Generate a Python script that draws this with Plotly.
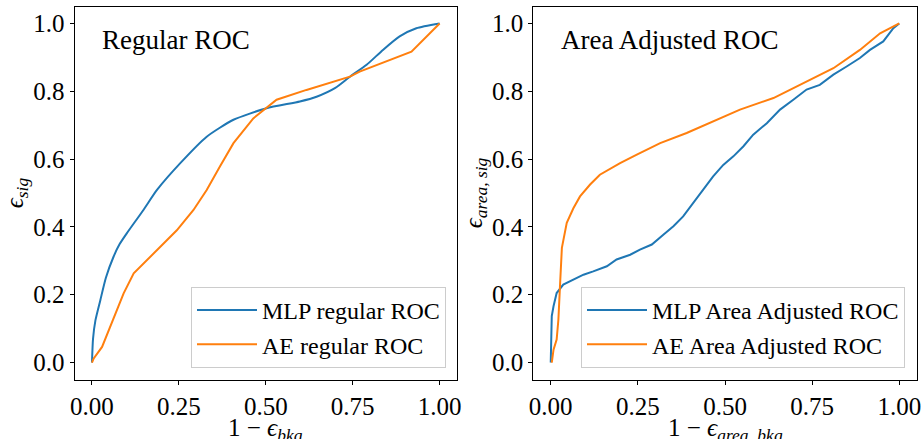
import plotly.graph_objects as go

# ---- data ----
mlp_reg_x = [0, 0.003, 0.01, 0.024, 0.04, 0.062, 0.08, 0.1, 0.148, 0.187, 0.254, 0.33, 0.407, 0.502, 0.598, 0.646, 0.70, 0.742, 0.79, 0.837, 0.885, 0.933, 1.0]
mlp_reg_y = [0, 0.07, 0.125, 0.184, 0.25, 0.312, 0.35, 0.381, 0.45, 0.509, 0.588, 0.666, 0.716, 0.75, 0.77, 0.784, 0.81, 0.843, 0.878, 0.922, 0.962, 0.986, 1.0]

ae_reg_x = [0, 0.005, 0.029, 0.053, 0.091, 0.12, 0.148, 0.196, 0.244, 0.292, 0.33, 0.368, 0.407, 0.464, 0.502, 0.531, 0.617, 0.742, 0.77, 0.919, 1.0]
ae_reg_y = [0, 0.012, 0.046, 0.105, 0.204, 0.263, 0.292, 0.342, 0.39, 0.45, 0.509, 0.578, 0.647, 0.72, 0.75, 0.775, 0.804, 0.843, 0.858, 0.917, 1.0]

mlp_area_x = [0, 0.003, 0.008, 0.017, 0.036, 0.065, 0.094, 0.122, 0.161, 0.189, 0.228, 0.256, 0.29, 0.323, 0.352, 0.38, 0.409, 0.428, 0.443, 0.466, 0.495, 0.524, 0.553, 0.581, 0.62, 0.658, 0.696, 0.734, 0.772, 0.811, 0.849, 0.887, 0.916, 0.954, 0.983, 1.0]
mlp_area_y = [0, 0.137, 0.166, 0.205, 0.23, 0.245, 0.259, 0.269, 0.284, 0.304, 0.318, 0.333, 0.348, 0.377, 0.402, 0.431, 0.471, 0.5, 0.52, 0.549, 0.583, 0.608, 0.638, 0.672, 0.706, 0.746, 0.775, 0.805, 0.819, 0.849, 0.873, 0.898, 0.922, 0.947, 0.986, 1.0]

ae_area_x = [0.003, 0.008, 0.017, 0.022, 0.027, 0.032, 0.046, 0.065, 0.084, 0.113, 0.141, 0.199, 0.247, 0.314, 0.39, 0.467, 0.543, 0.639, 0.744, 0.811, 0.887, 0.945, 1.0]
ae_area_y = [0, 0.038, 0.068, 0.127, 0.235, 0.338, 0.412, 0.455, 0.49, 0.525, 0.554, 0.588, 0.613, 0.647, 0.677, 0.711, 0.746, 0.78, 0.834, 0.868, 0.922, 0.971, 1.0]

x_ticks = [0, 0.25, 0.5, 0.75, 1.0]
x_ticklabels = ["0.00", "0.25", "0.50", "0.75", "1.00"]
y_ticks = [0, 0.2, 0.4, 0.6, 0.8, 1.0]
y_ticklabels = ["0.0", "0.2", "0.4", "0.6", "0.8", "1.0"]

BLUE = "#1f77b4"
ORANGE = "#ff7f0e"
FONT = "Liberation Serif"

fig = go.Figure()
fig.add_trace(go.Scatter(x=mlp_reg_x, y=mlp_reg_y, mode="lines", name="MLP regular ROC",
                         line=dict(color=BLUE, width=2, shape="spline", smoothing=0.6),
                         xaxis="x", yaxis="y", legend="legend"))
fig.add_trace(go.Scatter(x=ae_reg_x, y=ae_reg_y, mode="lines", name="AE regular ROC",
                         line=dict(color=ORANGE, width=2),
                         xaxis="x", yaxis="y", legend="legend"))
fig.add_trace(go.Scatter(x=mlp_area_x, y=mlp_area_y, mode="lines", name="MLP Area Adjusted ROC",
                         line=dict(color=BLUE, width=2),
                         xaxis="x2", yaxis="y2", legend="legend2"))
fig.add_trace(go.Scatter(x=ae_area_x, y=ae_area_y, mode="lines", name="AE Area Adjusted ROC",
                         line=dict(color=ORANGE, width=2),
                         xaxis="x2", yaxis="y2", legend="legend2"))

W, H = 922, 439
xd1 = [74.6 / W, 457 / W]
xd2 = [533.3 / W, 916.7 / W]
yd = [1 - 379.5 / H, 1 - 6.5 / H]

axis_common = dict(showgrid=False, zeroline=False, showline=True, mirror=True,
                   linecolor="black", linewidth=1, ticks="outside", ticklen=4,
                   tickcolor="black", automargin=False,
                   tickfont=dict(family=FONT, size=25, color="black"))

title_y = 1 - 412 / H

fig.update_layout(
    width=W, height=H,
    margin=dict(l=0, r=0, t=0, b=0),
    paper_bgcolor="white", plot_bgcolor="white",
    font=dict(family=FONT, size=24, color="black"),
    xaxis=dict(domain=xd1, range=[-0.05, 1.05], tickvals=x_ticks, ticktext=x_ticklabels,
               anchor="y", **axis_common),
    yaxis=dict(domain=yd, range=[-0.05, 1.05], tickvals=y_ticks, ticktext=y_ticklabels,
               anchor="x", title=dict(text="<i>ϵ</i><sub><i>sig</i></sub>", standoff=2,
                                      font=dict(family=FONT, size=25)), **axis_common),
    xaxis2=dict(domain=xd2, range=[-0.05, 1.05], tickvals=x_ticks, ticktext=x_ticklabels,
                anchor="y2", **axis_common),
    yaxis2=dict(domain=yd, range=[-0.05, 1.05], tickvals=y_ticks, ticktext=y_ticklabels,
                anchor="x2", title=dict(text="<i>ϵ</i><sub><i>area, sig</i></sub>", standoff=2,
                                        font=dict(family=FONT, size=25)), **axis_common),
    legend=dict(x=446 / W, y=1 - 368 / H, xanchor="right", yanchor="bottom",
                bgcolor="rgba(255,255,255,0.8)", bordercolor="#cccccc", borderwidth=1,
                font=dict(family=FONT, size=24), itemwidth=60, tracegroupgap=0),
    legend2=dict(x=905 / W, y=1 - 368 / H, xanchor="right", yanchor="bottom",
                 bgcolor="rgba(255,255,255,0.8)", bordercolor="#cccccc", borderwidth=1,
                 font=dict(family=FONT, size=24), itemwidth=60, tracegroupgap=0),
    annotations=[
        dict(text="Regular ROC", xref="paper", yref="paper", x=100 / W, y=1 - 40 / H,
             xanchor="left", yanchor="middle", showarrow=False,
             font=dict(family=FONT, size=27, color="black")),
        dict(text="Area Adjusted ROC", xref="paper", yref="paper", x=559 / W, y=1 - 40 / H,
             xanchor="left", yanchor="middle", showarrow=False,
             font=dict(family=FONT, size=27, color="black")),
        dict(text="1 − <i>ϵ</i><sub><i>bkg</i></sub>", xref="paper", yref="paper",
             x=sum(xd1) / 2, y=title_y, xanchor="center", yanchor="top", showarrow=False,
             font=dict(family=FONT, size=25, color="black")),
        dict(text="1 − <i>ϵ</i><sub><i>area, bkg</i></sub>", xref="paper", yref="paper",
             x=sum(xd2) / 2, y=title_y, xanchor="center", yanchor="top", showarrow=False,
             font=dict(family=FONT, size=25, color="black")),
    ],
)

fig.write_html("out.html", config={"displayModeBar": False},
               post_script="document.body.style.margin='0px';")
